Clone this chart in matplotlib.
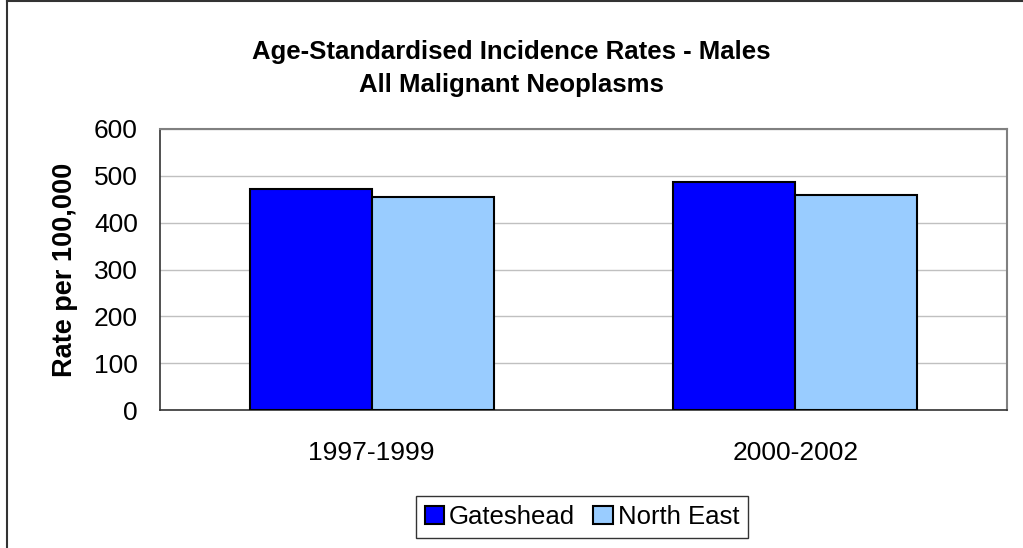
import numpy as np
import matplotlib.pyplot as plt
from matplotlib.lines import Line2D

plt.rcParams['font.family'] = ['Liberation Sans', 'DejaVu Sans']

# Data
periods = ['1997-1999', '2000-2002']
series = ['Gateshead', 'North East']
gateshead = [471, 486]
north_east = [455, 460]
colors = ['#0000FF', '#99CCFF']

fig = plt.figure(figsize=(10.23, 5.48), dpi=100)
ax = fig.add_axes([160 / 1023, 1 - 410 / 548, 847 / 1023, 281 / 548])

ind = np.arange(len(periods))
width = 0.288

b1 = ax.bar(ind - width / 2, gateshead, width, color=colors[0], edgecolor='black', linewidth=1.5, zorder=3)
b2 = ax.bar(ind + width / 2, north_east, width, color=colors[1], edgecolor='black', linewidth=1.5, zorder=3)

ax.set_xlim(-0.5, 1.5)
ax.set_ylim(0, 600)
ax.set_yticks(range(0, 601, 100))
ax.yaxis.grid(True, color='#c0c0c0', linewidth=1, zorder=0)
ax.tick_params(axis='both', length=0, labelsize=19, colors='black')
ax.tick_params(axis='y', pad=16)
ax.tick_params(axis='x', pad=22)
ax.set_xticks(ind, periods)

for side in ['top', 'right']:
    ax.spines[side].set_color('#808080')
    ax.spines[side].set_linewidth(1.5)
for side in ['left', 'bottom']:
    ax.spines[side].set_color('#333333')
    ax.spines[side].set_linewidth(1.2)

ax.set_ylabel('Rate per 100,000', fontsize=19.5, fontweight='bold')
ax.yaxis.label.set_va('center')
ax.yaxis.set_label_coords(-0.112, 0.5)

fig.text(0.5, 1 - 52 / 548, 'Age-Standardised Incidence Rates - Males', ha='center', va='center',
         fontsize=18.5, fontweight='bold')
fig.text(0.5, 1 - 85 / 548, 'All Malignant Neoplasms', ha='center', va='center',
         fontsize=18.5, fontweight='bold')

leg = fig.legend((b1[0], b2[0]), series, loc='center', bbox_to_anchor=(582 / 1023, 1 - 517 / 548),
                 ncol=2, fontsize=18.5, frameon=True, fancybox=False, edgecolor='black',
                 handlelength=0.75, handleheight=0.75, handletextpad=0.2, columnspacing=0.7,
                 borderpad=0.35, borderaxespad=0)
leg.get_frame().set_linewidth(1)

# outer chart border (left and top visible in the reference)
fig.add_artist(Line2D([7 / 1023, 7 / 1023], [0, 1 - 1 / 548], color='#333333', linewidth=1.5))
fig.add_artist(Line2D([7 / 1023, 1], [1 - 1 / 548, 1 - 1 / 548], color='#333333', linewidth=1.5))

fig.savefig('out.png', dpi=100)
